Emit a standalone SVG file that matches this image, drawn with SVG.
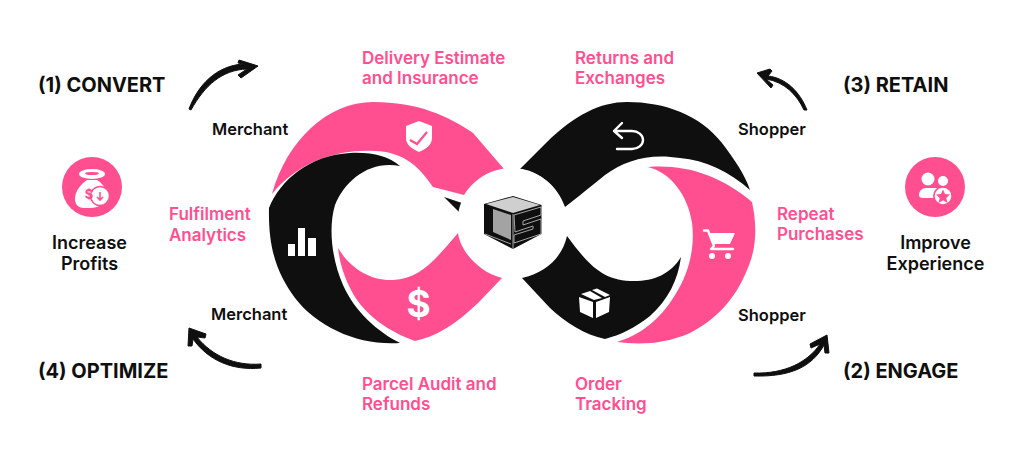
<svg xmlns="http://www.w3.org/2000/svg" width="1024" height="460" viewBox="0 0 1024 460">
<style>
.pink{fill:#ff4f91}.blk{fill:#0f0f0f}
text{font-family:Inter,"Liberation Sans",sans-serif}
.h{font-size:20px;font-weight:700;fill:#0f0f0f}
.m{font-size:16.5px;font-weight:600;fill:#0f0f0f}
.o{font-size:18px;font-weight:600;fill:#0f0f0f;text-anchor:middle}
.l{font-size:17px;font-weight:600;fill:#ff4f91}
.arr{fill:#0f0f0f;stroke:#0f0f0f;stroke-width:1;stroke-linejoin:round}
.ic{fill:#fff}.ics{fill:none;stroke:#fff;stroke-width:2.4;stroke-linecap:round;stroke-linejoin:round}
</style>
<g id="connectors">
<path class="arr" d="M189 109C198 85 216 66 243 64L238 63L239 60L258 66L241 78L238 75L247 69C222 70 205 85 191 110Z"/>
<path class="arr" d="M807 110C800 92 786 78 768 76L772 71L770 69L757 73L771 88L773 85L766 79C785 82 797 95 804 110Z"/>
<path class="arr" d="M754 373C785 374 808 362 820 344L811 348L810 344L827 335L829 353L825 353L824 345C812 367 790 377 754 376Z"/>
<path class="arr" d="M261 364C235 366 212 356 197 337L205 338L206 334L189 328L188 346L192 346L193 339C208 360 232 371 261 368Z"/>
</g>
<g id="ring">
<path id="seg-delivery" class="pink" d="M272 194C287 140 328 102 373 102C418 102 448 116 473 133L504 169C485 173 472 182 464 195L433 187C420 168 405 152 375 151C340 149 300 160 272 194Z"/>
<path id="seg-analytics" class="blk" d="M269 208C280 180 310 155 350 153C372 152 388 156 400 166C370 160 345 180 335 205C328 228 332 260 343 285C355 312 378 332 400 343C360 346 318 328 295 298C278 275 268 250 269 208Z"/>
<path id="seg-connector" class="blk" d="M444 197L462 203L459 212Z"/>
<path id="seg-refund" class="pink" d="M338 248C350 268 370 281 393 280C420 279 435 260 458 233C460 250 478 272 502 278L478 303C455 325 435 337 415 341C395 334 370 320 355 297C345 280 340 265 338 248Z"/>
<path id="seg-returns" class="blk" d="M520 169L547 142C575 115 600 102 627 102C665 102 700 115 722 143C735 160 745 175 750 190C730 172 705 160 680 158C650 153 625 160 605 175C590 187 578 197 565 207C558 186 540 172 520 169Z"/>
<path id="seg-repeat" class="pink" d="M648 167C685 164 720 175 752 202C757 225 757 248 747 270C735 300 715 320 690 333C665 344 640 345 617 342C640 335 660 320 675 295C690 272 695 245 692 223C688 195 670 172 648 167Z"/>
<path id="seg-tracking" class="blk" d="M567 236C585 260 600 280 630 281C652 282 670 275 681 257C678 280 668 300 650 316C635 328 620 335 605 339C585 335 565 322 550 308L522 278C545 273 562 258 567 236Z"/>
</g>
<g id="hub">
<circle cx="511.5" cy="222" r="54" fill="#fff"/>
<path class="blk" d="M484 204L513 196L541.5 205V234L513 249L484 234Z"/>
<path fill="#cfcfcf" d="M486 204L513 197L540 205L513 213Z"/>
<path fill="#a3a3a3" d="M493 209L511 215V240L493 232Z"/>
<path fill="none" stroke="#b5b5b5" stroke-width="0.9" d="M513 214V249M485 234L511 244M514 215L541 207V215L523 221V225L541 219V234L514 243V235L533 229V226L515 232Z"/>
</g>
<g id="icon-shield">
<path class="ic" d="M419 121L432 126V138C432 145 426 149 419 152C412 149 406 145 406 138V126Z"/>
<path fill="none" stroke="#ff4f91" stroke-width="2.2" d="M410 140L417 144L427 132"/>
</g>
<g id="icon-bars"><path class="ic" d="M288 244H295V256H288ZM298 228H305V256H298ZM308 238H316V256H308Z"/></g>
<g id="icon-dollar"><text x="418.5" y="317" font-size="37" font-weight="700" fill="#fff" text-anchor="middle">$</text></g>
<g id="icon-return"><path class="ics" d="M614 131H632C638 131 643 135 643 140C643 145 638 149 632 149H617M622 123L614 131L622 138"/></g>
<g id="icon-cart">
<path class="ics" d="M704 230.5H708L714 246L711 249H733"/>
<path class="ic" d="M709 233H735L730 244H713Z"/><circle class="ic" cx="712" cy="256" r="3"/><circle class="ic" cx="728" cy="256" r="3"/>
</g>
<g id="icon-box">
<path class="ic" d="M579 297L593 302V318L580 312ZM596 302L610 297L609 312L596 318ZM581 294L590 291L602 298L594 300ZM592 290L597 288.5L610 295L605 297Z"/>
</g>
<g id="profits">
<circle class="pink" cx="92" cy="187" r="30"/>
<ellipse class="ic" cx="92" cy="174" rx="13" ry="5"/><ellipse class="pink" cx="92" cy="173.5" rx="7" ry="1.6"/>
<path class="ic" d="M87 180H97C102 183 106 188 106 194C106 203 100 208 90 208H84C78 208 75 204 75 199C75 191 81 184 87 180Z"/>
<circle class="ic" stroke="#ff4f91" stroke-width="1.5" cx="100" cy="196" r="9.5"/><path fill="none" stroke="#ff4f91" stroke-width="1.6" d="M100 192V199M97 197L100 200L103 197"/>
<text x="89" y="199" font-size="13" font-weight="700" fill="#ff4f91" text-anchor="middle">$</text>
<text class="o" x="89.5" y="249">Increase</text><text class="o" x="89.5" y="270">Profits</text>
</g>
<g id="experience">
<circle class="pink" cx="935" cy="187" r="30"/>
<circle class="ic" cx="928" cy="179" r="6.5"/><circle class="ic" cx="943" cy="181" r="5"/>
<path class="ic" d="M919 195C919 191 922 188 926 188H944V198H923C920 198 919 197 919 195Z"/>
<circle class="pink" cx="943" cy="196" r="10"/><circle class="ic" cx="943" cy="196" r="8.3"/><path fill="#ff4f91" d="M943 189.5L945 194L950 194.5L946.3 198L947.5 203L943 200.3L938.5 203L939.7 198L936 194.5L941 194Z"/>
<text class="o" x="935.5" y="249">Improve</text><text class="o" x="935.5" y="270">Experience</text>
</g>
<g id="labels">
<text class="h" x="38" y="92">(1) CONVERT</text>
<text class="h" x="843" y="92">(3) RETAIN</text>
<text class="h" x="843" y="378">(2) ENGAGE</text>
<text class="h" x="38" y="378">(4) OPTIMIZE</text>
<text class="m" x="212" y="135">Merchant</text>
<text class="m" x="211" y="320">Merchant</text>
<text class="m" x="738" y="135">Shopper</text>
<text class="m" x="738" y="321">Shopper</text>
<text class="l" x="362" y="63.5">Delivery Estimate</text><text class="l" x="362" y="83.5">and Insurance</text>
<text class="l" x="575" y="63.5">Returns and</text><text class="l" x="575" y="83.5">Exchanges</text>
<text class="l" x="169" y="219.5">Fulfilment</text><text class="l" x="169" y="240.5">Analytics</text>
<text class="l" x="777" y="219.5">Repeat</text><text class="l" x="777" y="239.5">Purchases</text>
<text class="l" x="362" y="389.5">Parcel Audit and</text><text class="l" x="362" y="409.5">Refunds</text>
<text class="l" x="575" y="389.5">Order</text><text class="l" x="575" y="409.5">Tracking</text>
</g>
</svg>
